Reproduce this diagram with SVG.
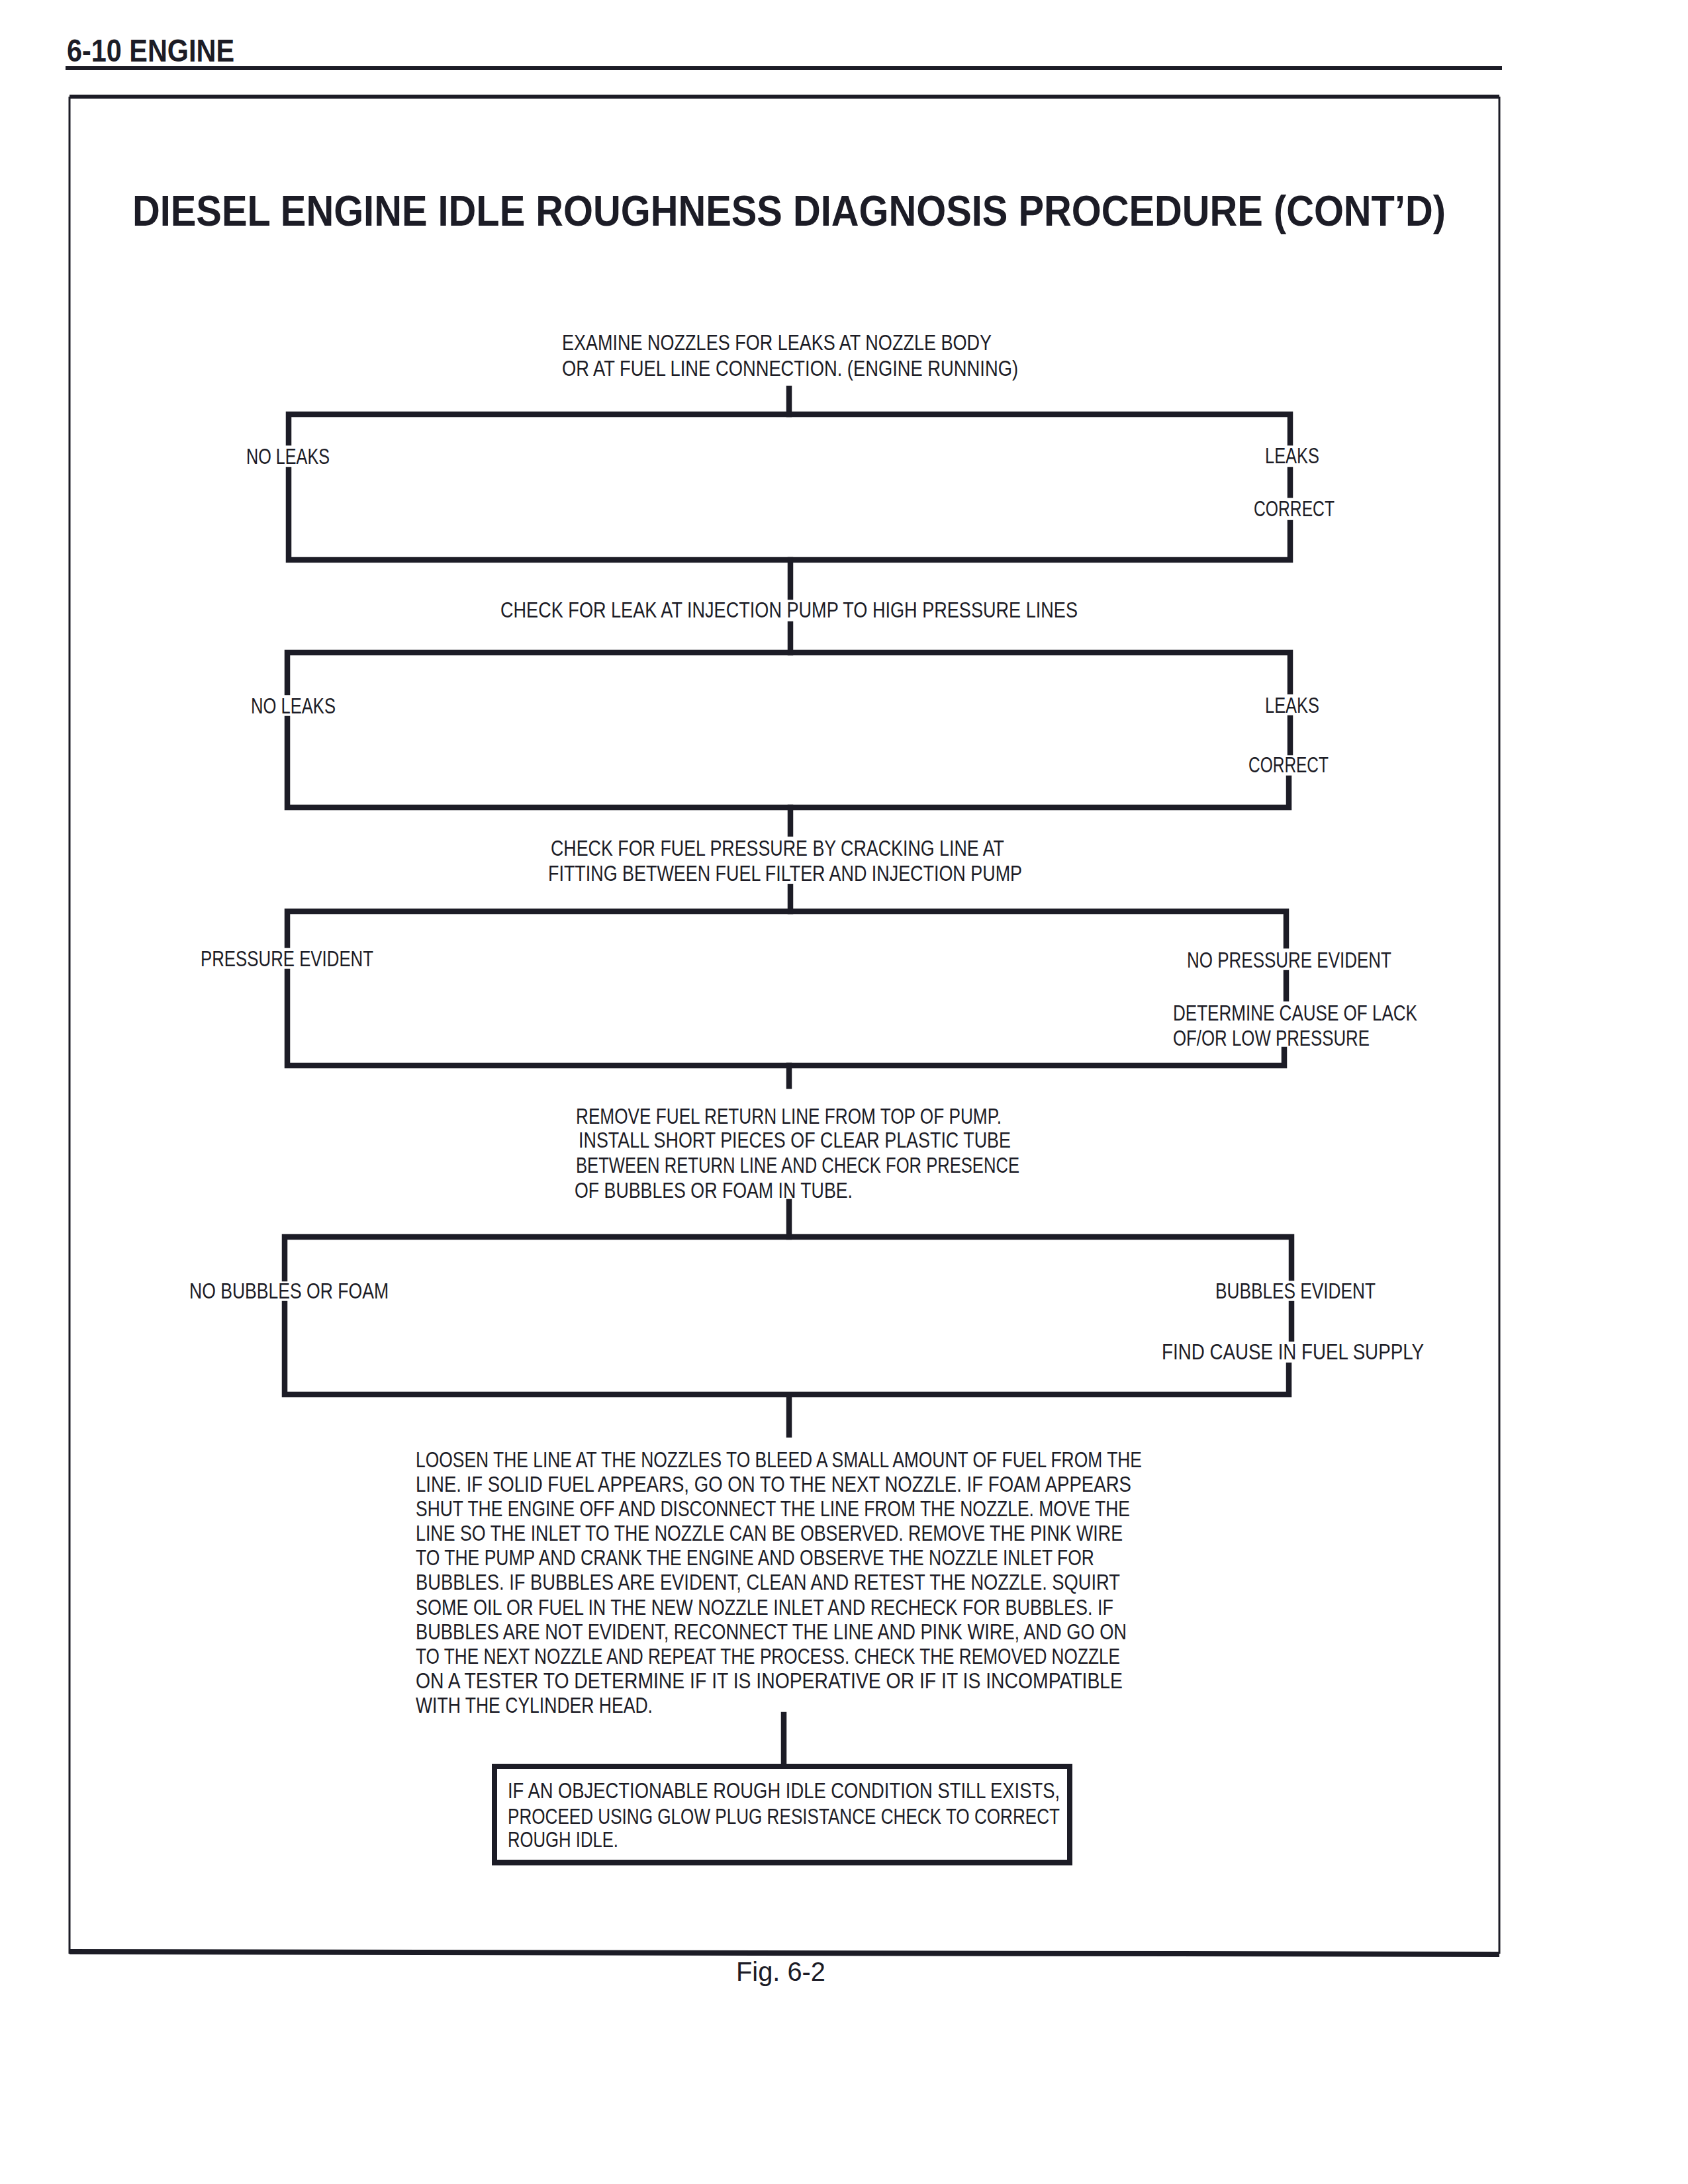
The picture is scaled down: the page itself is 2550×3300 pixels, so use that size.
<svg xmlns="http://www.w3.org/2000/svg" width="2550" height="3300" viewBox="0 0 2550 3300">
<style>
.t{font-family:"Liberation Sans Narrow","Liberation Sans",Arial,sans-serif;font-size:32.5px;fill:#1c1c26}
.h{font-family:"Liberation Sans Narrow","Liberation Sans",Arial,sans-serif;font-size:48px;font-weight:bold;fill:#1c1c26}
.ti{font-family:"Liberation Sans",Arial,sans-serif;font-size:65px;font-weight:bold;fill:#1c1c26}
.fig{font-family:"Liberation Sans",Arial,sans-serif;font-size:40px;fill:#1c1c26}
.ln{fill:none;stroke:#1c1c26;stroke-width:8.5;stroke-linecap:square}
.fr{fill:none;stroke:#1c1c26}
</style>
<rect width="2550" height="3300" fill="#ffffff"/>

<g id="header">
<text class="h" x="101" y="93" textLength="253" lengthAdjust="spacingAndGlyphs">6-10  ENGINE</text>
<line class="fr" x1="99" y1="103" x2="2269" y2="103" stroke-width="6"/>
</g>

<g id="frame">
<line class="fr" x1="105" y1="146" x2="2265" y2="146" stroke-width="6"/>
<line class="fr" x1="105" y1="146" x2="105" y2="2952" stroke-width="3"/>
<line class="fr" x1="2265" y1="146" x2="2265" y2="2952" stroke-width="3"/>
<line class="fr" x1="105" y1="2949" x2="2265" y2="2953" stroke-width="8"/>
</g>

<g id="title">
<text class="ti" x="200" y="341" textLength="1984" lengthAdjust="spacingAndGlyphs">DIESEL ENGINE IDLE ROUGHNESS DIAGNOSIS PROCEDURE (CONT’D)</text>
</g>

<g id="connectors">
<path class="ln" d="M1192 587 V626"/>
<path class="ln" d="M436 669 V626 H1949 V669"/>
<path class="ln" d="M436 710 V846 H1949 V790"/>
<path class="ln" d="M1949 710 V748"/>
<path class="ln" d="M1194 846 V902"/>
<path class="ln" d="M1194 943 V986"/>
<path class="ln" d="M434 1046 V986 H1949 V1045"/>
<path class="ln" d="M434 1086 V1220 H1947 V1176"/>
<path class="ln" d="M1949 1085 V1137"/>
<path class="ln" d="M1194 1220 V1260"/>
<path class="ln" d="M1194 1340 V1377"/>
<path class="ln" d="M434 1428 V1377 H1943 V1429"/>
<path class="ln" d="M434 1468 V1610 H1940 V1586"/>
<path class="ln" d="M1943 1470 V1509"/>
<path class="ln" d="M1192 1610 V1641"/>
<path class="ln" d="M1192 1816 V1869"/>
<path class="ln" d="M430 1932 V1869 H1951 V1931"/>
<path class="ln" d="M430 1970 V2107 H1947 V2063"/>
<path class="ln" d="M1951 1970 V2023"/>
<path class="ln" d="M1192 2114 V2168"/>
<path class="ln" d="M1184 2591 V2667"/>
</g>

<g id="n1">
<text class="t" x="849" y="529" textLength="649" lengthAdjust="spacingAndGlyphs">EXAMINE NOZZLES FOR LEAKS AT NOZZLE BODY</text>
<text class="t" x="849" y="568" textLength="689" lengthAdjust="spacingAndGlyphs">OR AT FUEL LINE CONNECTION.  (ENGINE RUNNING)</text>
</g>
<g id="n1-no">
<text class="t" x="372" y="701" textLength="126" lengthAdjust="spacingAndGlyphs">NO LEAKS</text>
</g>
<g id="n1-yes">
<text class="t" x="1911" y="700" textLength="82" lengthAdjust="spacingAndGlyphs">LEAKS</text>
<text class="t" x="1894" y="780" textLength="122" lengthAdjust="spacingAndGlyphs">CORRECT</text>
</g>

<g id="n2">
<text class="t" x="756" y="933" textLength="872" lengthAdjust="spacingAndGlyphs">CHECK FOR LEAK AT INJECTION PUMP TO HIGH PRESSURE LINES</text>
</g>
<g id="n2-no">
<text class="t" x="379" y="1078" textLength="128" lengthAdjust="spacingAndGlyphs">NO LEAKS</text>
</g>
<g id="n2-yes">
<text class="t" x="1911" y="1077" textLength="82" lengthAdjust="spacingAndGlyphs">LEAKS</text>
<text class="t" x="1886" y="1167" textLength="121" lengthAdjust="spacingAndGlyphs">CORRECT</text>
</g>

<g id="n3">
<text class="t" x="832" y="1293" textLength="685" lengthAdjust="spacingAndGlyphs">CHECK FOR FUEL PRESSURE BY CRACKING LINE AT</text>
<text class="t" x="828" y="1331" textLength="716" lengthAdjust="spacingAndGlyphs">FITTING BETWEEN FUEL FILTER AND INJECTION PUMP</text>
</g>
<g id="n3-yes">
<text class="t" x="303" y="1460" textLength="261" lengthAdjust="spacingAndGlyphs">PRESSURE EVIDENT</text>
</g>
<g id="n3-no">
<text class="t" x="1793" y="1462" textLength="309" lengthAdjust="spacingAndGlyphs">NO PRESSURE EVIDENT</text>
<text class="t" x="1772" y="1542" textLength="369" lengthAdjust="spacingAndGlyphs">DETERMINE CAUSE OF LACK</text>
<text class="t" x="1772" y="1580" textLength="297" lengthAdjust="spacingAndGlyphs">OF/OR LOW PRESSURE</text>
</g>

<g id="n4">
<text class="t" x="870" y="1698" textLength="643" lengthAdjust="spacingAndGlyphs">REMOVE FUEL RETURN LINE FROM TOP OF PUMP.</text>
<text class="t" x="874" y="1734" textLength="653" lengthAdjust="spacingAndGlyphs">INSTALL SHORT PIECES OF CLEAR PLASTIC TUBE</text>
<text class="t" x="870" y="1772" textLength="670" lengthAdjust="spacingAndGlyphs">BETWEEN RETURN LINE AND CHECK FOR PRESENCE</text>
<text class="t" x="868" y="1810" textLength="420" lengthAdjust="spacingAndGlyphs">OF BUBBLES OR FOAM IN TUBE.</text>
</g>
<g id="n4-no">
<text class="t" x="286" y="1962" textLength="301" lengthAdjust="spacingAndGlyphs">NO BUBBLES OR FOAM</text>
</g>
<g id="n4-yes">
<text class="t" x="1836" y="1962" textLength="242" lengthAdjust="spacingAndGlyphs">BUBBLES EVIDENT</text>
<text class="t" x="1755" y="2054" textLength="396" lengthAdjust="spacingAndGlyphs">FIND CAUSE IN FUEL SUPPLY</text>
</g>

<g id="n5">
<text class="t" x="628" y="2217" textLength="1097" lengthAdjust="spacingAndGlyphs">LOOSEN THE LINE AT THE NOZZLES TO BLEED A SMALL AMOUNT OF FUEL FROM THE</text>
<text class="t" x="628" y="2254" textLength="1081" lengthAdjust="spacingAndGlyphs">LINE.  IF SOLID FUEL APPEARS,  GO ON TO THE NEXT NOZZLE.  IF FOAM APPEARS</text>
<text class="t" x="628" y="2291" textLength="1079" lengthAdjust="spacingAndGlyphs">SHUT THE ENGINE OFF AND DISCONNECT THE LINE FROM THE NOZZLE.  MOVE THE</text>
<text class="t" x="628" y="2328" textLength="1068" lengthAdjust="spacingAndGlyphs">LINE SO THE INLET TO THE NOZZLE CAN BE OBSERVED.  REMOVE THE PINK WIRE</text>
<text class="t" x="628" y="2365" textLength="1025" lengthAdjust="spacingAndGlyphs">TO THE PUMP AND CRANK THE ENGINE AND OBSERVE THE NOZZLE INLET FOR</text>
<text class="t" x="628" y="2402" textLength="1064" lengthAdjust="spacingAndGlyphs">BUBBLES.  IF BUBBLES ARE EVIDENT, CLEAN AND RETEST THE NOZZLE.  SQUIRT</text>
<text class="t" x="628" y="2440" textLength="1054" lengthAdjust="spacingAndGlyphs">SOME OIL OR FUEL IN THE NEW NOZZLE INLET AND RECHECK FOR BUBBLES.  IF</text>
<text class="t" x="628" y="2477" textLength="1074" lengthAdjust="spacingAndGlyphs">BUBBLES ARE NOT EVIDENT,  RECONNECT THE LINE AND PINK WIRE,  AND GO ON</text>
<text class="t" x="628" y="2514" textLength="1064" lengthAdjust="spacingAndGlyphs">TO THE NEXT NOZZLE AND REPEAT THE PROCESS.  CHECK THE REMOVED NOZZLE</text>
<text class="t" x="628" y="2551" textLength="1068" lengthAdjust="spacingAndGlyphs">ON A TESTER TO DETERMINE IF IT IS INOPERATIVE OR IF IT IS  INCOMPATIBLE</text>
<text class="t" x="628" y="2588" textLength="358" lengthAdjust="spacingAndGlyphs">WITH THE CYLINDER HEAD.</text>
</g>

<g id="n6">
<rect x="747" y="2669" width="869" height="145" fill="none" stroke="#1c1c26" stroke-width="8"/>
<line class="fr" x1="743" y1="2815" x2="1620" y2="2815" stroke-width="7"/>
<text class="t" x="767" y="2717" textLength="834" lengthAdjust="spacingAndGlyphs">IF AN OBJECTIONABLE ROUGH IDLE CONDITION STILL EXISTS,</text>
<text class="t" x="767" y="2756" textLength="834" lengthAdjust="spacingAndGlyphs">PROCEED USING GLOW PLUG RESISTANCE CHECK TO CORRECT</text>
<text class="t" x="767" y="2791" textLength="167" lengthAdjust="spacingAndGlyphs">ROUGH IDLE.</text>
</g>

<g id="caption">
<text class="fig" x="1112" y="2993" textLength="135" lengthAdjust="spacingAndGlyphs">Fig. 6-2</text>
</g>
</svg>
